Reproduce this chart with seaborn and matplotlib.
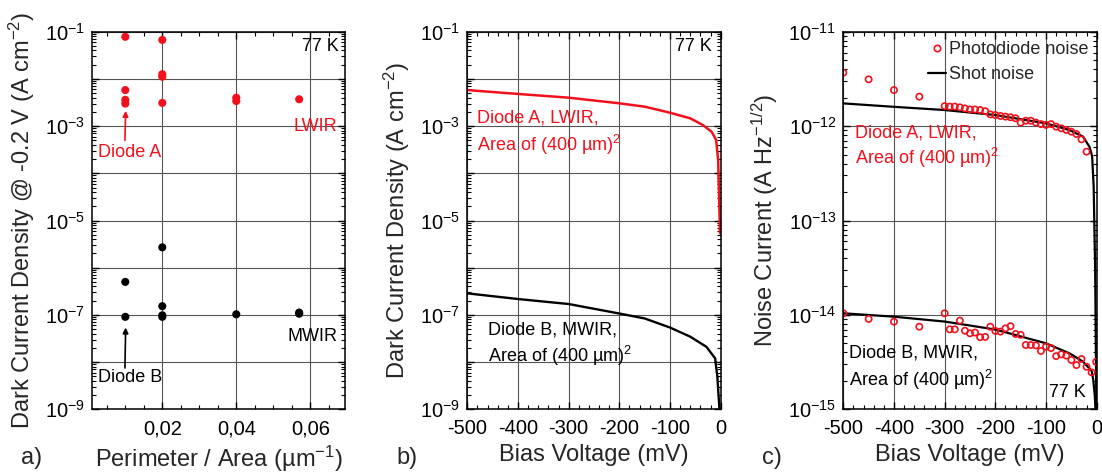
import numpy as np
import pandas as pd
import matplotlib
matplotlib.use("Agg")
import matplotlib.pyplot as plt
import seaborn as sns
from matplotlib.ticker import FixedLocator, LogLocator, MultipleLocator, FuncFormatter, NullFormatter
from matplotlib.lines import Line2D

# ---------------- a) dark current density at -0.2 V vs perimeter/area
pa_lwir = [0.01, 0.02, 0.02, 0.02, 0.01, 0.01, 0.01, 0.02, 0.04, 0.04, 0.057]
j_lwir = [0.078, 0.067, 0.0126, 0.0111, 0.0058, 0.0036, 0.0030, 0.0031, 0.0040, 0.0034, 0.0037]
pa_mwir = [0.02, 0.01, 0.02, 0.02, 0.02, 0.01, 0.04, 0.057, 0.057]
j_mwir = [2.7e-6, 5.0e-7, 1.53e-7, 9.8e-8, 9.1e-8, 9.1e-8, 1.03e-7, 1.12e-7, 1.06e-7]

# ---------------- b) dark current density vs bias
bias_a = [-500, -400, -300, -200, -150, -100, -60, -35, -18, -9, -5, -3.4, -1.3]
jd_a = [5.8e-3, 4.8e-3, 4.0e-3, 3.04e-3, 2.58e-3, 1.92e-3, 1.46e-3, 1.05e-3, 7.6e-4, 5.1e-4,
        1.9e-4, 3.8e-5, 5.4e-6]
bias_b = [-500, -400, -300, -200, -150, -100, -60, -28, -11, -6.6, -2.7, -1.5]
jd_b = [2.86e-7, 2.17e-7, 1.7e-7, 1.07e-7, 8.4e-8, 5.4e-8, 3.45e-8, 2.1e-8, 1.2e-8, 4.9e-9,
        1.1e-9, 5e-10]

# ---------------- c) noise current vs bias
noise_v_a = [-500, -450, -400, -350, -300, -290, -280, -270, -260, -250, -240, -230, -220,
             -210, -200, -190, -180, -170, -160, -150, -140, -130, -120, -110, -100, -90,
             -80, -70, -60, -50, -40, -30, -20]
noise_a = [3.68e-12, 3.13e-12, 2.41e-12, 2.05e-12, 1.63e-12, 1.61e-12, 1.61e-12, 1.58e-12,
           1.54e-12, 1.50e-12, 1.50e-12, 1.48e-12, 1.44e-12, 1.33e-12, 1.31e-12, 1.28e-12,
           1.26e-12, 1.24e-12, 1.21e-12, 1.09e-12, 1.14e-12, 1.14e-12, 1.09e-12, 1.05e-12,
           1.03e-12, 1.05e-12, 0.986e-12, 0.948e-12, 0.91e-12, 0.873e-12, 0.825e-12,
           0.724e-12, 0.536e-12]
noise_v_b = [-500, -450, -400, -350, -300, -290, -280, -270, -260, -250, -240, -230, -220,
             -210, -200, -190, -180, -170, -160, -150, -140, -130, -120, -110, -100, -90,
             -80, -70, -60, -50, -40, -30, -20, -10, -1]
noise_b = [1.04e-14, 9.06e-15, 8.48e-15, 7.5e-15, 1.04e-14, 7.03e-15, 7.03e-15, 8.7e-15,
           6.8e-15, 6.38e-15, 6.5e-15, 5.8e-15, 5.85e-15, 7.5e-15, 6.76e-15, 6.65e-15,
           7.2e-15, 7.6e-15, 6.28e-15, 6.15e-15, 4.8e-15, 4.8e-15, 4.75e-15, 4.15e-15,
           4.6e-15, 4.45e-15, 3.66e-15, 3.82e-15, 3.7e-15, 3.33e-15, 2.94e-15, 3.41e-15,
           2.82e-15, 2.46e-15, 3.19e-15]
shot_v_a = [-500, -400, -300, -200, -100, -54, -27, -14, -9, -6, -3, -0.5]
shot_a = [1.74e-12, 1.6e-12, 1.48e-12, 1.31e-12, 1.07e-12, 0.91e-12, 0.775e-12, 0.6e-12,
          0.48e-12, 2.3e-13, 3.0e-14, 8e-16]
shot_v_b = [-500, -400, -300, -200, -100, -53, -27, -10, -7, -3.8, -1.5]
shot_b = [1.04e-14, 9.57e-15, 8.5e-15, 7.0e-15, 5.0e-15, 3.9e-15, 3.2e-15, 2.55e-15,
          2.1e-15, 1.4e-15, 8e-16]

RED = "#f2101c"
GRID = "#555555"
TICK_FS = 14.5
LABEL_FS = 17
NOTE_FS = 13

sns.set_theme(style="ticks")
plt.rcParams["font.family"] = ["Liberation Sans", "DejaVu Sans"]
plt.rcParams["mathtext.fontset"] = "custom"
plt.rcParams["mathtext.rm"] = "Liberation Sans"
plt.rcParams["mathtext.it"] = "Liberation Sans:italic"
plt.rcParams["mathtext.bf"] = "Liberation Sans:bold"
plt.rcParams["axes.unicode_minus"] = False

fig = plt.figure(figsize=(11.02, 4.74), dpi=100)
fig.patch.set_facecolor("white")
W, H = 1102.0, 474.0


def make_axes(left_px):
    return fig.add_axes([left_px / W, 1 - 409.3 / H, 253.4 / W, 377.6 / H])


ax_a = make_axes(92.0)
ax_b = make_axes(467.3)
ax_c = make_axes(843.3)


def style_log_axis(ax, lo, hi, label_every):
    ax.set_yscale("log")
    ax.set_ylim(10.0 ** lo, 10.0 ** hi)
    ax.yaxis.set_major_locator(FixedLocator([10.0 ** e for e in range(lo, hi + 1)]))
    ax.yaxis.set_minor_locator(LogLocator(base=10, subs=np.arange(2, 10), numticks=100))
    ax.yaxis.set_minor_formatter(NullFormatter())

    def fmt(v, pos):
        e = int(round(np.log10(v)))
        if (e - hi) % label_every == 0:
            return r"$\mathregular{10^{%d}}$" % e
        return ""

    ax.yaxis.set_major_formatter(FuncFormatter(fmt))


def style_common(ax):
    ax.set_facecolor("white")
    for s in ax.spines.values():
        s.set_linewidth(1.1)
        s.set_color("black")
        s.set_zorder(5)
    ax.grid(True, which="major", color=GRID, lw=0.8)
    ax.set_axisbelow(True)
    ax.tick_params(which="both", direction="in", top=True, right=True, colors="black",
                   labelsize=TICK_FS, pad=5)
    ax.tick_params(axis="x", which="both", pad=7)
    ax.tick_params(which="major", length=5, width=1.0)
    ax.tick_params(which="minor", length=3, width=0.8)


# ---------------- panel a
df_a = pd.DataFrame({
    "pa": pa_lwir + pa_mwir,
    "j": j_lwir + j_mwir,
    "band": ["LWIR"] * len(pa_lwir) + ["MWIR"] * len(pa_mwir),
})
sns.scatterplot(data=df_a, x="pa", y="j", hue="band", palette={"LWIR": RED, "MWIR": "black"},
                s=34, edgecolor="none", legend=False, ax=ax_a, zorder=4)
style_log_axis(ax_a, -9, -1, 2)
style_common(ax_a)
ax_a.set_xlim(0.001, 0.0695)
ax_a.xaxis.set_major_locator(FixedLocator([0.02, 0.04, 0.06]))
ax_a.xaxis.set_minor_locator(MultipleLocator(0.005))
ax_a.xaxis.set_major_formatter(FuncFormatter(lambda v, p: f"{v:.2f}".replace(".", ",")))
ax_a.set_xlabel(r"Perimeter / Area (µm$^{\mathregular{-1}}$)", fontsize=LABEL_FS, labelpad=4)
ax_a.set_ylabel(r"Dark Current Density @ -0.2 V (A cm$^{\mathregular{-2}}$)",
                fontsize=LABEL_FS, labelpad=6)
ax_a.text(0.973, 0.960, "77 K", transform=ax_a.transAxes, ha="right", va="center",
          fontsize=NOTE_FS, color="black")
ax_a.text(0.967, 0.748, "LWIR", transform=ax_a.transAxes, ha="right", va="center",
          fontsize=NOTE_FS, color=RED)
ax_a.text(0.967, 0.192, "MWIR", transform=ax_a.transAxes, ha="right", va="center",
          fontsize=NOTE_FS, color="black")
ax_a.text(0.025, 0.680, "Diode A", transform=ax_a.transAxes, ha="left", va="center",
          fontsize=NOTE_FS, color=RED)
ax_a.text(0.025, 0.084, "Diode B", transform=ax_a.transAxes, ha="left", va="center",
          fontsize=NOTE_FS, color="black")
ax_a.annotate("", xy=(0.0101, 2.1e-3), xytext=(0.0099, 5.0e-4),
              arrowprops=dict(arrowstyle="-|>", color=RED, lw=1.2, mutation_scale=8,
                              shrinkA=0, shrinkB=0))
ax_a.annotate("", xy=(0.0101, 5.4e-8), xytext=(0.0099, 7.5e-9),
              arrowprops=dict(arrowstyle="-|>", color="black", lw=1.2, mutation_scale=8,
                              shrinkA=0, shrinkB=0))

# ---------------- panel b
sns.lineplot(x=bias_a, y=jd_a, color=RED, lw=1.8, estimator=None, sort=False, ax=ax_b, zorder=4)
sns.lineplot(x=bias_b, y=jd_b, color="black", lw=1.7, estimator=None, sort=False, ax=ax_b,
             zorder=4)
style_log_axis(ax_b, -9, -1, 2)
style_common(ax_b)
ax_b.set_xlim(-500, 0)
ax_b.xaxis.set_major_locator(MultipleLocator(100))
ax_b.xaxis.set_minor_locator(MultipleLocator(20))
ax_b.xaxis.set_major_formatter(FuncFormatter(lambda v, p: f"{int(round(v))}"))
ax_b.set_xlabel("Bias Voltage (mV)", fontsize=LABEL_FS, labelpad=4)
ax_b.set_ylabel(r"Dark Current Density (A cm$^{\mathregular{-2}}$)", fontsize=LABEL_FS,
                labelpad=6)
ax_b.text(0.964, 0.960, "77 K", transform=ax_b.transAxes, ha="right", va="center",
          fontsize=NOTE_FS, color="black")
ax_b.text(0.037, 0.771, "Diode A, LWIR,", transform=ax_b.transAxes, ha="left", va="center",
          fontsize=NOTE_FS, color=RED)
ax_b.text(0.037, 0.700, r"Area of (400 µm)$^{\mathregular{2}}$", transform=ax_b.transAxes,
          ha="left", va="center", fontsize=NOTE_FS, color=RED)
ax_b.text(0.083, 0.210, "Diode B, MWIR,", transform=ax_b.transAxes, ha="left", va="center",
          fontsize=NOTE_FS, color="black")
ax_b.text(0.082, 0.141, r"Area of (400 µm)$^{\mathregular{2}}$", transform=ax_b.transAxes,
          ha="left", va="center", fontsize=NOTE_FS, color="black")

# ---------------- panel c
sns.lineplot(x=shot_v_a, y=shot_a, color="black", lw=1.6, estimator=None, sort=False, ax=ax_c,
             zorder=3)
sns.lineplot(x=shot_v_b, y=shot_b, color="black", lw=1.6, estimator=None, sort=False, ax=ax_c,
             zorder=3)
for vx, vy in ((noise_v_a, noise_a), (noise_v_b, noise_b)):
    n_before = len(ax_c.collections)
    sns.scatterplot(x=vx, y=vy, marker="o", s=20, linewidth=1.2, legend=False, ax=ax_c,
                    zorder=4)
    for coll in ax_c.collections[n_before:]:
        coll.set_facecolor("none")
        coll.set_edgecolor(RED)
style_log_axis(ax_c, -15, -11, 1)
style_common(ax_c)
ax_c.set_xlim(-500, 0)
ax_c.xaxis.set_major_locator(MultipleLocator(100))
ax_c.xaxis.set_minor_locator(MultipleLocator(20))
ax_c.xaxis.set_major_formatter(FuncFormatter(lambda v, p: f"{int(round(v))}"))
ax_c.set_xlabel("Bias Voltage (mV)", fontsize=LABEL_FS, labelpad=4)
ax_c.set_ylabel(r"Noise Current (A Hz$^{\mathregular{-1/2}}$)", fontsize=LABEL_FS, labelpad=6)
handles = [
    Line2D([], [], marker="o", ls="none", mfc="none", mec=RED, mew=1.2, ms=4.6),
    Line2D([], [], color="black", lw=1.6),
]
ax_c.legend(handles, ["Photodiode noise", "Shot noise"], loc="upper left",
            bbox_to_anchor=(0.333, 0.975), frameon=False, fontsize=NOTE_FS, handlelength=1.0,
            handletextpad=0.2, labelspacing=0.45, borderpad=0, borderaxespad=0)
ax_c.text(0.046, 0.733, "Diode A, LWIR,", transform=ax_c.transAxes, ha="left", va="center",
          fontsize=NOTE_FS, color=RED)
ax_c.text(0.046, 0.665, r"Area of (400 µm)$^{\mathregular{2}}$", transform=ax_c.transAxes,
          ha="left", va="center", fontsize=NOTE_FS, color=RED)
ax_c.text(0.024, 0.150, "Diode B, MWIR,", transform=ax_c.transAxes, ha="left", va="center",
          fontsize=NOTE_FS, color="black")
ax_c.text(0.024, 0.079, r"Area of (400 µm)$^{\mathregular{2}}$", transform=ax_c.transAxes,
          ha="left", va="center", fontsize=NOTE_FS, color="black")
ax_c.text(0.957, 0.044, "77 K", transform=ax_c.transAxes, ha="right", va="center",
          fontsize=NOTE_FS, color="black")

# panel letters
for xp, letter in ((20.7, "a)"), (396.7, "b)"), (761.7, "c)")):
    fig.text(xp / W, 1 - 458 / H, letter, ha="left", va="center", fontsize=LABEL_FS)

fig.savefig("out.png", dpi=100, facecolor="white")
